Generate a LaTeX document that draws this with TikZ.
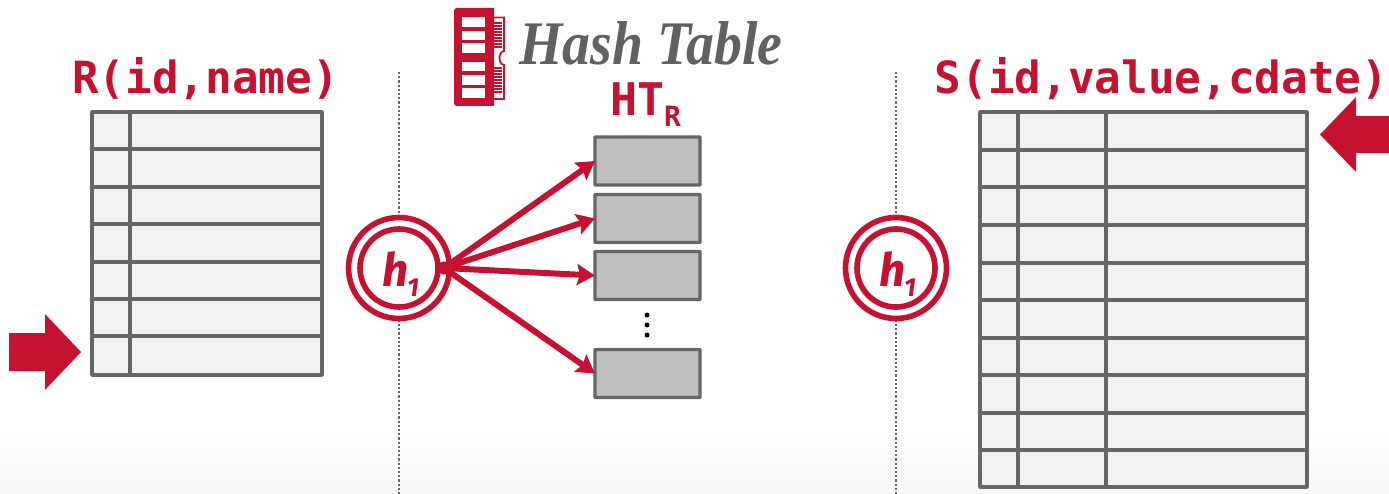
\documentclass[tikz,border=0pt]{standalone}
\usepackage{graphicx}
\usepackage{fontspec}
\setmainfont{Liberation Serif}
\newfontfamily\monob[Scale=1]{DejaVu Sans Mono Bold}
\newfontfamily\hfont{Fira Sans}
\usetikzlibrary{arrows.meta,calc}
\definecolor{cmured}{HTML}{C41230}
\definecolor{linegray}{HTML}{666666}
\definecolor{cellgray}{HTML}{F2F2F2}
\definecolor{bucketgray}{HTML}{BFBFBF}
\tikzset{
  x=1pt,y=-1pt,
  framebox/.style={draw=linegray,line width=3.6pt,fill=cellgray,rounded corners=0.5pt,inner sep=0pt,outer sep=0pt,anchor=north west},
  gridline/.style={draw=linegray,line width=3.6pt},
  bucket/.style={draw=linegray,line width=3.4pt,fill=bucketgray,inner sep=0pt,outer sep=0pt,anchor=north west,minimum width=105pt,minimum height=48pt,rounded corners=0.5pt},
  hashring/.style={circle,draw=cmured,line width=5.6pt,fill=white,minimum size=101pt,inner sep=0pt,outer sep=0pt},
  hashinner/.style={circle,draw=cmured,line width=5.6pt,fill=white,minimum size=78pt,inner sep=0pt,outer sep=0pt},
  divider/.style={draw=linegray,line width=2.2pt,dash pattern=on 2.2pt off 2pt},
  titlelabel/.style={text=cmured,font=\monob\fontsize{44.3}{44.3}\selectfont,inner sep=0pt,anchor=base},
  hasharrow/.style={draw=cmured,line width=6pt,-{Stealth[length=18pt,width=21pt,inset=3pt]}},
  blockarrow/.style={fill=cmured},
  hashsym/.style={text=cmured,inner sep=0pt,anchor=base west},
}
\begin{document}
\begin{tikzpicture}
\useasboundingbox (0,0) rectangle (1389,494);
\shade[top color=white,bottom color=white!97!black] (0,430) rectangle (1389,494);

% dividers
\coordinate (d1t) at (399,72); \coordinate (d1b) at (399,494);
\coordinate (d2t) at (896,72); \coordinate (d2b) at (896,494);
\draw[divider] (d1t) -- (d1b);
\draw[divider] (d2t) -- (d2b);

% Table R
\node[framebox,minimum width=230pt,minimum height=263pt] (tableR) at (92,112) {};
\foreach \yy in {149,187,224,262,299,336} \draw[gridline] (92,\yy) -- (322,\yy);
\draw[gridline] (130,112) -- (130,375);
\node[titlelabel] (labelR) at (205.5,94) {R(id,name)};

% Table S
\node[framebox,minimum width=327pt,minimum height=375pt] (tableS) at (980,112) {};
\foreach \yy in {150,187,225,263,300,338,375,413,450} \draw[gridline] (980,\yy) -- (1307,\yy);
\draw[gridline] (1018,112) -- (1018,487);
\draw[gridline] (1106,112) -- (1106,487);
\node[titlelabel] (labelS) at (1161.5,94) {S(id,value,cdate)};

% block arrows
\fill[blockarrow] (9,333) -- (45,333) -- (45,314) -- (81,352) -- (45,390) -- (45,371) -- (9,371) -- cycle;
\fill[blockarrow] (1389,116) -- (1356,116) -- (1356,97) -- (1320,134.5) -- (1356,172) -- (1356,153) -- (1389,153) -- cycle;

% hash functions
\node[hashring] (h1outer) at (399,268) {};
\node[hashinner] (h1inner) at (399,268) {};
\node[hashsym,font=\hfont\bfseries\itshape\fontsize{46}{46}\selectfont] (h1sym) at (382,287) {h};
\node[hashsym,font=\hfont\bfseries\itshape\fontsize{26}{26}\selectfont] (h1sub) at (407,296) {1};
\node[hashring] (h2outer) at (896,268) {};
\node[hashinner] (h2inner) at (896,268) {};
\node[hashsym,font=\hfont\bfseries\itshape\fontsize{46}{46}\selectfont] (h2sym) at (879,287) {h};
\node[hashsym,font=\hfont\bfseries\itshape\fontsize{26}{26}\selectfont] (h2sub) at (904,296) {1};

% chip icon
\fill[cmured] (456,8) -- (494,8) -- (494,106) -- (456,106) -- (454,104) -- (454,10) -- cycle;
\foreach \ya/\yb in {17/27,31/40,43/53,62/71,75/85,88/98}
  \fill[white] (462,\ya) rectangle (485,\yb);
\draw[cmured,line width=1.8pt] (494,17.5) -- (504,17.5) -- (504,51)
   .. controls (498,52) and (498,64) .. (504,65) -- (504,99) -- (494,99);
\foreach \yy in {23,26,29,32,35,38,41,44,47} \draw[cmured,line width=1.3pt] (494,\yy) -- (502,\yy);
\foreach \yy in {68,71,74,77,80,83,86,89,92} \draw[cmured,line width=1.3pt] (494,\yy) -- (502,\yy);

\node[text=linegray!95!black,font=\bfseries\itshape\fontsize{62}{62}\selectfont,inner sep=0pt,anchor=base west] (hashtitle) at (519,65) {\scalebox{0.9}[1]{Hash Table}};

% HT_R
\node[text=cmured,font=\monob\fontsize{45}{45}\selectfont,inner sep=0pt,anchor=base west] (ht) at (610,116) {HT};
\node[text=cmured,font=\monob\fontsize{28}{28}\selectfont,inner sep=0pt,anchor=base west] (htsub) at (664,127) {R};

% buckets
\node[bucket] (b1) at (595,137) {};
\node[bucket] (b2) at (595,194.5) {};
\node[bucket] (b3) at (595,251.5) {};
\node[bucket] (b4) at (595,349.5) {};
\fill[black] (647,315) circle[radius=2.5];
\fill[black] (647,325) circle[radius=2.5];
\fill[black] (647,335) circle[radius=2.5];

% arrows
\coordinate (origin) at (444,268);
\fill[cmured] (origin) circle[radius=6.5];
\draw[hasharrow] (origin) -- (b1.west);
\draw[hasharrow] (origin) -- (b2.west);
\draw[hasharrow] (origin) -- (b3.west);
\draw[hasharrow] (origin) -- (b4.west);
\end{tikzpicture}
\end{document}
